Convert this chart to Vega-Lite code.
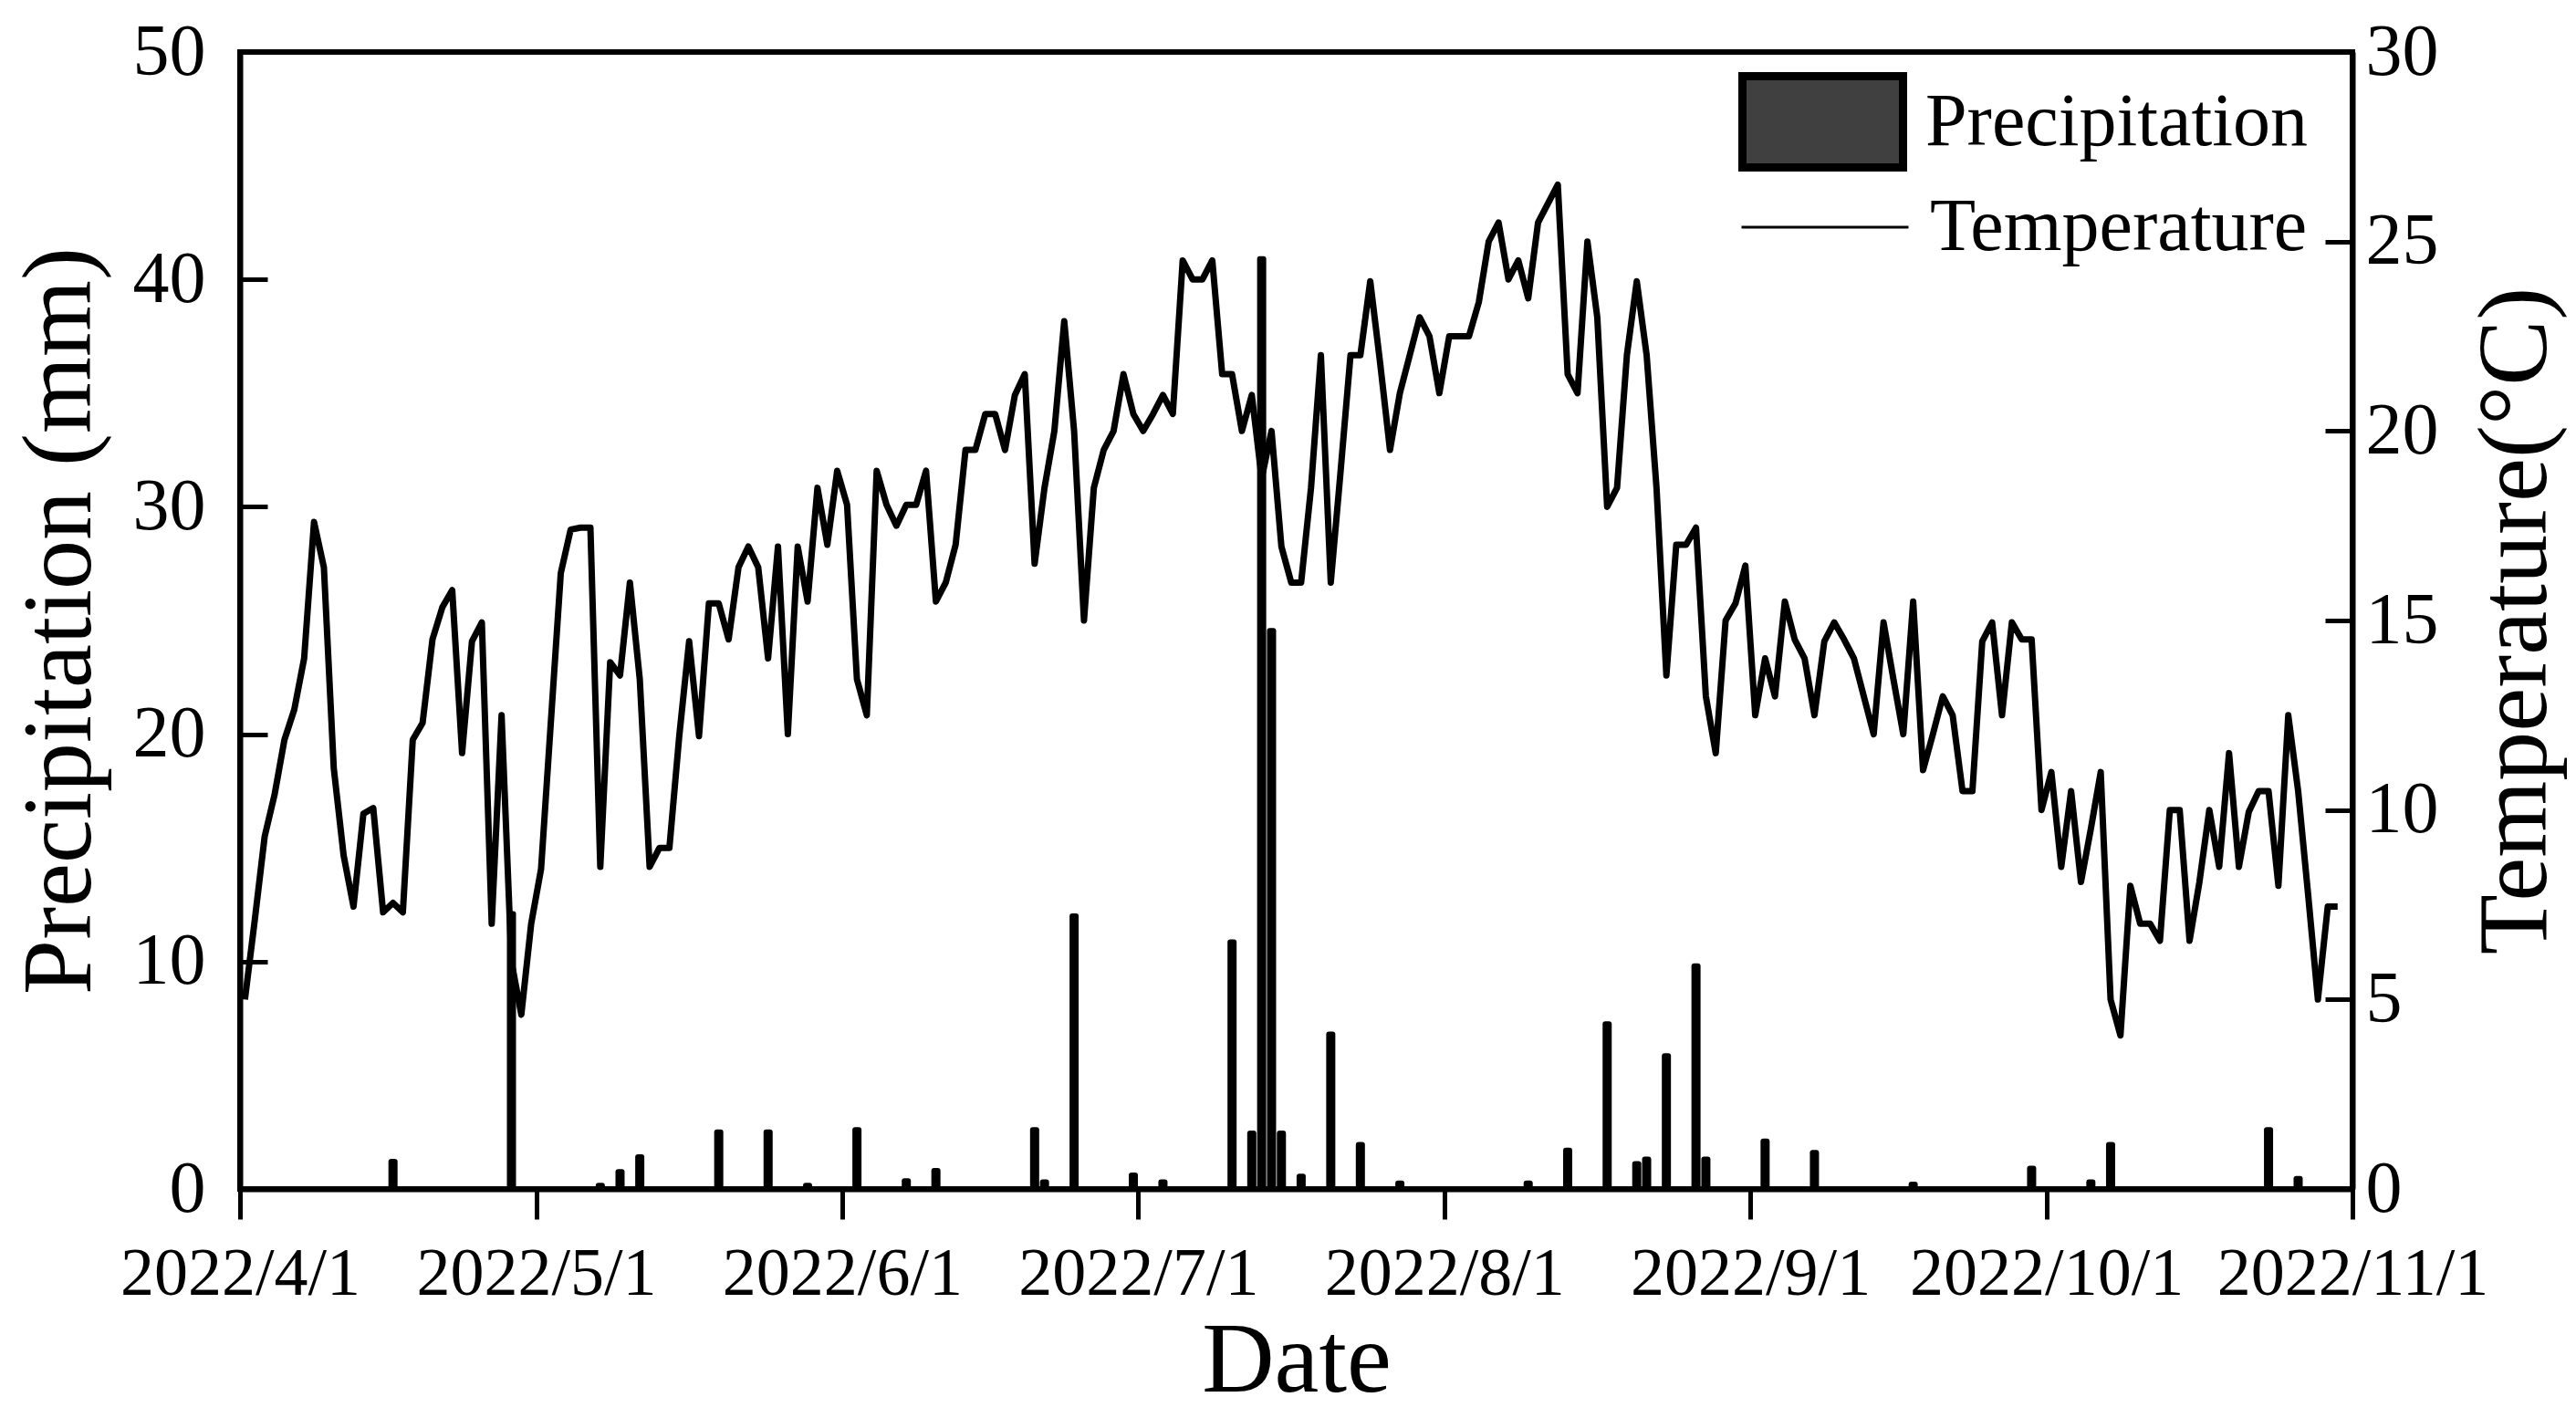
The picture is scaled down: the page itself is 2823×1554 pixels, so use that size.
{
  "$schema": "https://vega.github.io/schema/vega-lite/v6.json",
  "description": "Daily precipitation (bars) and temperature (line), 2022-04-01 to 2022-10-30",
  "width": 2315,
  "height": 1246,
  "autosize": "none",
  "padding": {"left": 263, "top": 57, "right": 245, "bottom": 251},
  "background": "white",
  "config": {
    "view": {"stroke": "black", "strokeWidth": 6},
    "font": "Liberation Serif",
    "axis": {
      "grid": false,
      "domainColor": "black",
      "domainWidth": 6,
      "tickColor": "black",
      "tickWidth": 5,
      "labelColor": "black",
      "titleColor": "black",
      "labelFont": "Liberation Serif",
      "titleFont": "Liberation Serif",
      "titleFontWeight": "normal",
      "labelLimit": 0
    },
    "legend": {
      "labelFont": "Liberation Serif",
      "labelColor": "black",
      "labelFontSize": 82,
      "labelLimit": 0,
      "padding": 0
    }
  },
  "datasets": {
    "daily": [
      {"date": "2022-04-01", "temp": 5.0}, {"date": "2022-04-02", "temp": 7.1}, {"date": "2022-04-03", "temp": 9.3},
      {"date": "2022-04-04", "temp": 10.4}, {"date": "2022-04-05", "temp": 11.85}, {"date": "2022-04-06", "temp": 12.65},
      {"date": "2022-04-07", "temp": 14.0}, {"date": "2022-04-08", "temp": 17.6}, {"date": "2022-04-09", "temp": 16.4},
      {"date": "2022-04-10", "temp": 11.1}, {"date": "2022-04-11", "temp": 8.8}, {"date": "2022-04-12", "temp": 7.45},
      {"date": "2022-04-13", "temp": 9.9}, {"date": "2022-04-14", "temp": 10.05}, {"date": "2022-04-15", "temp": 7.3},
      {"date": "2022-04-16", "temp": 7.55}, {"date": "2022-04-17", "temp": 7.3}, {"date": "2022-04-18", "temp": 11.85},
      {"date": "2022-04-19", "temp": 12.3}, {"date": "2022-04-20", "temp": 14.5}, {"date": "2022-04-21", "temp": 15.35},
      {"date": "2022-04-22", "temp": 15.8}, {"date": "2022-04-23", "temp": 11.5}, {"date": "2022-04-24", "temp": 14.45},
      {"date": "2022-04-25", "temp": 14.95}, {"date": "2022-04-26", "temp": 7.0}, {"date": "2022-04-27", "temp": 12.5},
      {"date": "2022-04-28", "temp": 6.0}, {"date": "2022-04-29", "temp": 4.6}, {"date": "2022-04-30", "temp": 7.0},
      {"date": "2022-05-01", "temp": 8.44}, {"date": "2022-05-02", "temp": 12.35}, {"date": "2022-05-03", "temp": 16.25},
      {"date": "2022-05-04", "temp": 17.4}, {"date": "2022-05-05", "temp": 17.45}, {"date": "2022-05-06", "temp": 17.45},
      {"date": "2022-05-07", "temp": 8.5}, {"date": "2022-05-08", "temp": 13.9}, {"date": "2022-05-09", "temp": 13.55},
      {"date": "2022-05-10", "temp": 16.0}, {"date": "2022-05-11", "temp": 13.45}, {"date": "2022-05-12", "temp": 8.5},
      {"date": "2022-05-13", "temp": 9.0}, {"date": "2022-05-14", "temp": 9.0}, {"date": "2022-05-15", "temp": 11.95},
      {"date": "2022-05-16", "temp": 14.45}, {"date": "2022-05-17", "temp": 11.95}, {"date": "2022-05-18", "temp": 15.45},
      {"date": "2022-05-19", "temp": 15.45}, {"date": "2022-05-20", "temp": 14.5}, {"date": "2022-05-21", "temp": 16.4},
      {"date": "2022-05-22", "temp": 16.95}, {"date": "2022-05-23", "temp": 16.4}, {"date": "2022-05-24", "temp": 14.0},
      {"date": "2022-05-25", "temp": 16.95}, {"date": "2022-05-26", "temp": 12.0}, {"date": "2022-05-27", "temp": 16.95},
      {"date": "2022-05-28", "temp": 15.5}, {"date": "2022-05-29", "temp": 18.5}, {"date": "2022-05-30", "temp": 17.0},
      {"date": "2022-05-31", "temp": 18.95},
      {"date": "2022-06-01", "temp": 18.05}, {"date": "2022-06-02", "temp": 13.45}, {"date": "2022-06-03", "temp": 12.5},
      {"date": "2022-06-04", "temp": 18.95}, {"date": "2022-06-05", "temp": 18.05}, {"date": "2022-06-06", "temp": 17.5},
      {"date": "2022-06-07", "temp": 18.05}, {"date": "2022-06-08", "temp": 18.05}, {"date": "2022-06-09", "temp": 18.95},
      {"date": "2022-06-10", "temp": 15.5}, {"date": "2022-06-11", "temp": 16.0}, {"date": "2022-06-12", "temp": 17.0},
      {"date": "2022-06-13", "temp": 19.5}, {"date": "2022-06-14", "temp": 19.5}, {"date": "2022-06-15", "temp": 20.45},
      {"date": "2022-06-16", "temp": 20.45}, {"date": "2022-06-17", "temp": 19.5}, {"date": "2022-06-18", "temp": 20.95},
      {"date": "2022-06-19", "temp": 21.5}, {"date": "2022-06-20", "temp": 16.5}, {"date": "2022-06-21", "temp": 18.5},
      {"date": "2022-06-22", "temp": 20.0}, {"date": "2022-06-23", "temp": 22.9}, {"date": "2022-06-24", "temp": 20.0},
      {"date": "2022-06-25", "temp": 15.0}, {"date": "2022-06-26", "temp": 18.5}, {"date": "2022-06-27", "temp": 19.5},
      {"date": "2022-06-28", "temp": 20.0}, {"date": "2022-06-29", "temp": 21.5}, {"date": "2022-06-30", "temp": 20.45},
      {"date": "2022-07-01", "temp": 20.0}, {"date": "2022-07-02", "temp": 20.45}, {"date": "2022-07-03", "temp": 20.95},
      {"date": "2022-07-04", "temp": 20.45}, {"date": "2022-07-05", "temp": 24.5}, {"date": "2022-07-06", "temp": 24.0},
      {"date": "2022-07-07", "temp": 24.0}, {"date": "2022-07-08", "temp": 24.5}, {"date": "2022-07-09", "temp": 21.5},
      {"date": "2022-07-10", "temp": 21.5}, {"date": "2022-07-11", "temp": 20.0}, {"date": "2022-07-12", "temp": 20.95},
      {"date": "2022-07-13", "temp": 18.75}, {"date": "2022-07-14", "temp": 20.0}, {"date": "2022-07-15", "temp": 16.95},
      {"date": "2022-07-16", "temp": 16.0}, {"date": "2022-07-17", "temp": 16.0}, {"date": "2022-07-18", "temp": 18.5},
      {"date": "2022-07-19", "temp": 22.0}, {"date": "2022-07-20", "temp": 16.0}, {"date": "2022-07-21", "temp": 18.95},
      {"date": "2022-07-22", "temp": 22.0}, {"date": "2022-07-23", "temp": 22.0}, {"date": "2022-07-24", "temp": 23.95},
      {"date": "2022-07-25", "temp": 21.8}, {"date": "2022-07-26", "temp": 19.5}, {"date": "2022-07-27", "temp": 21.0},
      {"date": "2022-07-28", "temp": 22.0}, {"date": "2022-07-29", "temp": 23.0}, {"date": "2022-07-30", "temp": 22.5},
      {"date": "2022-07-31", "temp": 21.0},
      {"date": "2022-08-01", "temp": 22.5}, {"date": "2022-08-02", "temp": 22.5}, {"date": "2022-08-03", "temp": 22.5},
      {"date": "2022-08-04", "temp": 23.4}, {"date": "2022-08-05", "temp": 25.0}, {"date": "2022-08-06", "temp": 25.5},
      {"date": "2022-08-07", "temp": 24.0}, {"date": "2022-08-08", "temp": 24.5}, {"date": "2022-08-09", "temp": 23.5},
      {"date": "2022-08-10", "temp": 25.5}, {"date": "2022-08-11", "temp": 26.0}, {"date": "2022-08-12", "temp": 26.5},
      {"date": "2022-08-13", "temp": 21.5}, {"date": "2022-08-14", "temp": 21.0}, {"date": "2022-08-15", "temp": 25.0},
      {"date": "2022-08-16", "temp": 23.0}, {"date": "2022-08-17", "temp": 18.0}, {"date": "2022-08-18", "temp": 18.5},
      {"date": "2022-08-19", "temp": 22.0}, {"date": "2022-08-20", "temp": 23.95}, {"date": "2022-08-21", "temp": 22.0},
      {"date": "2022-08-22", "temp": 18.5}, {"date": "2022-08-23", "temp": 13.55}, {"date": "2022-08-24", "temp": 17.0},
      {"date": "2022-08-25", "temp": 17.0}, {"date": "2022-08-26", "temp": 17.45}, {"date": "2022-08-27", "temp": 13.0},
      {"date": "2022-08-28", "temp": 11.5}, {"date": "2022-08-29", "temp": 15.0}, {"date": "2022-08-30", "temp": 15.45},
      {"date": "2022-08-31", "temp": 16.45},
      {"date": "2022-09-01", "temp": 12.5}, {"date": "2022-09-02", "temp": 14.0}, {"date": "2022-09-03", "temp": 13.0},
      {"date": "2022-09-04", "temp": 15.5}, {"date": "2022-09-05", "temp": 14.5}, {"date": "2022-09-06", "temp": 14.0},
      {"date": "2022-09-07", "temp": 12.5}, {"date": "2022-09-08", "temp": 14.45}, {"date": "2022-09-09", "temp": 14.95},
      {"date": "2022-09-10", "temp": 14.5}, {"date": "2022-09-11", "temp": 14.0}, {"date": "2022-09-12", "temp": 13.0},
      {"date": "2022-09-13", "temp": 12.0}, {"date": "2022-09-14", "temp": 14.95}, {"date": "2022-09-15", "temp": 13.45},
      {"date": "2022-09-16", "temp": 12.0}, {"date": "2022-09-17", "temp": 15.5}, {"date": "2022-09-18", "temp": 11.05},
      {"date": "2022-09-19", "temp": 12.0}, {"date": "2022-09-20", "temp": 13.0}, {"date": "2022-09-21", "temp": 12.5},
      {"date": "2022-09-22", "temp": 10.5}, {"date": "2022-09-23", "temp": 10.5}, {"date": "2022-09-24", "temp": 14.45},
      {"date": "2022-09-25", "temp": 14.95}, {"date": "2022-09-26", "temp": 12.5}, {"date": "2022-09-27", "temp": 14.95},
      {"date": "2022-09-28", "temp": 14.5}, {"date": "2022-09-29", "temp": 14.5}, {"date": "2022-09-30", "temp": 10.0},
      {"date": "2022-10-01", "temp": 11.0}, {"date": "2022-10-02", "temp": 8.5}, {"date": "2022-10-03", "temp": 10.5},
      {"date": "2022-10-04", "temp": 8.1}, {"date": "2022-10-05", "temp": 9.5}, {"date": "2022-10-06", "temp": 11.0},
      {"date": "2022-10-07", "temp": 5.0}, {"date": "2022-10-08", "temp": 4.05}, {"date": "2022-10-09", "temp": 8.0},
      {"date": "2022-10-10", "temp": 7.0}, {"date": "2022-10-11", "temp": 7.0}, {"date": "2022-10-12", "temp": 6.55},
      {"date": "2022-10-13", "temp": 10.0}, {"date": "2022-10-14", "temp": 10.0}, {"date": "2022-10-15", "temp": 6.55},
      {"date": "2022-10-16", "temp": 8.1}, {"date": "2022-10-17", "temp": 10.0}, {"date": "2022-10-18", "temp": 8.5},
      {"date": "2022-10-19", "temp": 11.5}, {"date": "2022-10-20", "temp": 8.5}, {"date": "2022-10-21", "temp": 9.95},
      {"date": "2022-10-22", "temp": 10.5}, {"date": "2022-10-23", "temp": 10.5}, {"date": "2022-10-24", "temp": 8.0},
      {"date": "2022-10-25", "temp": 12.5}, {"date": "2022-10-26", "temp": 10.5}, {"date": "2022-10-27", "temp": 7.8},
      {"date": "2022-10-28", "temp": 5.0}, {"date": "2022-10-29", "temp": 7.45}, {"date": "2022-10-30", "temp": 7.45}
    ],
    "rain": [
      {"date": "2022-04-16", "precip": 1.2}, {"date": "2022-04-28", "precip": 12.1},
      {"date": "2022-05-07", "precip": 0.15}, {"date": "2022-05-09", "precip": 0.75}, {"date": "2022-05-11", "precip": 1.4},
      {"date": "2022-05-19", "precip": 2.5}, {"date": "2022-05-24", "precip": 2.5}, {"date": "2022-05-28", "precip": 0.15},
      {"date": "2022-06-02", "precip": 2.6}, {"date": "2022-06-07", "precip": 0.35}, {"date": "2022-06-10", "precip": 0.8},
      {"date": "2022-06-20", "precip": 2.6}, {"date": "2022-06-21", "precip": 0.3}, {"date": "2022-06-24", "precip": 12.0},
      {"date": "2022-06-30", "precip": 0.6},
      {"date": "2022-07-03", "precip": 0.3}, {"date": "2022-07-10", "precip": 10.85}, {"date": "2022-07-12", "precip": 2.45},
      {"date": "2022-07-13", "precip": 40.9}, {"date": "2022-07-14", "precip": 24.55}, {"date": "2022-07-15", "precip": 2.45},
      {"date": "2022-07-17", "precip": 0.55}, {"date": "2022-07-20", "precip": 6.8}, {"date": "2022-07-23", "precip": 1.95},
      {"date": "2022-07-27", "precip": 0.25},
      {"date": "2022-08-09", "precip": 0.25}, {"date": "2022-08-13", "precip": 1.7}, {"date": "2022-08-17", "precip": 7.25},
      {"date": "2022-08-20", "precip": 1.1}, {"date": "2022-08-21", "precip": 1.3}, {"date": "2022-08-23", "precip": 5.85},
      {"date": "2022-08-26", "precip": 9.8}, {"date": "2022-08-27", "precip": 1.3},
      {"date": "2022-09-02", "precip": 2.1}, {"date": "2022-09-07", "precip": 1.6}, {"date": "2022-09-17", "precip": 0.2},
      {"date": "2022-09-29", "precip": 0.9},
      {"date": "2022-10-05", "precip": 0.3}, {"date": "2022-10-07", "precip": 1.95}, {"date": "2022-10-23", "precip": 2.6},
      {"date": "2022-10-26", "precip": 0.45}
    ]
  },
  "layer": [
    {
      "data": {"name": "rain"},
      "mark": {"type": "bar", "width": 4, "stroke": "black", "strokeWidth": 6, "strokeJoin": "round"},
      "encoding": {
        "x": {
          "field": "date",
          "type": "temporal",
          "timeUnit": "utcyearmonthdate",
          "bandPosition": 0.5,
          "scale": {
            "type": "utc",
            "domain": [
              {"year": 2022, "month": 4, "date": 1, "utc": true},
              {"year": 2022, "month": 11, "date": 1, "utc": true}
            ]
          },
          "axis": {
            "orient": "bottom",
            "title": "Date",
            "format": "%Y/%-m/%-d",
            "tickCount": {"interval": "month", "step": 1},
            "labelFontSize": 74,
            "labelPadding": 24,
            "tickSize": 33,
            "labelOverlap": false,
            "labelFlush": false,
            "labelBound": false,
            "titleFontSize": 110,
            "titlePadding": 4
          }
        },
        "y": {
          "field": "precip",
          "type": "quantitative",
          "scale": {"domain": [0, 50]},
          "axis": {
            "orient": "left",
            "title": "Precipitation (mm)",
            "values": [0, 10, 20, 30, 40, 50],
            "tickSize": -30,
            "labelFontSize": 80,
            "labelPadding": 68,
            "titleFontSize": 108,
            "titlePadding": 24
          }
        },
        "fill": {
          "datum": "Precipitation",
          "scale": {"range": ["#404040"]},
          "legend": {
            "title": null,
            "orient": "none",
            "legendX": 1642,
            "legendY": -16,
            "symbolType": "M-1,-0.568H1V0.568H-1Z",
            "symbolSize": 30976,
            "symbolStrokeColor": "black",
            "symbolStrokeWidth": 9,
            "symbolOpacity": 1,
            "labelOffset": 20
          }
        }
      }
    },
    {
      "data": {"name": "daily"},
      "mark": {"type": "line", "color": "black", "strokeWidth": 7, "strokeJoin": "round"},
      "encoding": {
        "x": {
          "field": "date",
          "type": "temporal",
          "timeUnit": "utcyearmonthdate",
          "bandPosition": 0.5
        },
        "y": {
          "field": "temp",
          "type": "quantitative",
          "scale": {"domain": [0, 30]},
          "axis": {
            "orient": "right",
            "title": "Temperature(°C)",
            "values": [0, 5, 10, 15, 20, 25, 30],
            "tickSize": -30,
            "labelFontSize": 80,
            "labelPadding": 44,
            "titleFontSize": 108,
            "titleAngle": -90,
            "titleBaseline": "top",
            "titlePadding": 32
          }
        },
        "stroke": {
          "datum": "Temperature",
          "scale": {"range": ["black"]},
          "legend": {
            "title": null,
            "orient": "none",
            "legendX": 1644,
            "legendY": 99,
            "symbolType": "stroke",
            "symbolSize": 33489,
            "symbolStrokeWidth": 3,
            "labelOffset": 22
          }
        }
      }
    }
  ],
  "resolve": {"scale": {"y": "independent"}}
}
